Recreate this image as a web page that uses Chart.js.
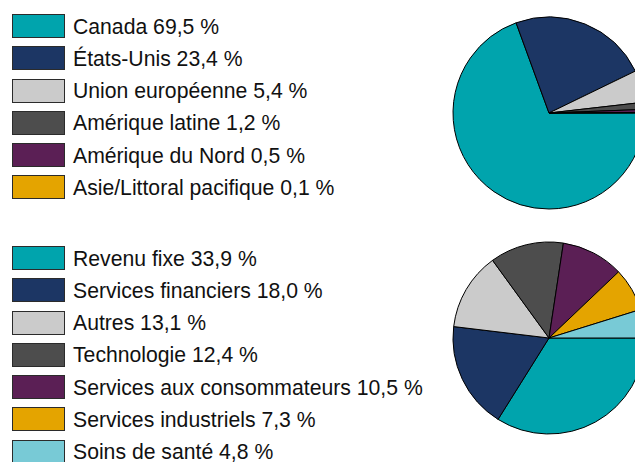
<!DOCTYPE html>
<html lang="fr">
<head>
<meta charset="utf-8">
<script src="https://cdn.jsdelivr.net/npm/chart.js@4/dist/chart.umd.min.js"></script>
<style>
  html, body { margin: 0; padding: 0; background: #fff; }
  body { position: relative; width: 635px; height: 462px; overflow: hidden; font-family: "Liberation Sans", Arial, sans-serif; }
  .legend { position: absolute; left: 12px; }
  .row { position: relative; height: 24px; margin-bottom: 8.25px; }
  .box { position: absolute; left: 0; top: 0; width: 51px; height: 22px; border: 1px solid #2b2b2b; }
  .txt { position: absolute; left: 61px; top: 0.5px; line-height: 24px; font-size: 21.2px; color: #111; white-space: nowrap; }
  .pie { position: absolute; width: 200px; height: 200px; }
</style>
</head>
<body>
<div class="legend" id="legendRegions" style="top:14px"></div>
<div class="pie" style="left:449px; top:13px"><canvas id="regionsChart" width="200" height="200"></canvas></div>

<div class="legend" id="legendSectors" style="top:246px"></div>
<div class="pie" style="left:449px; top:238px"><canvas id="sectorsChart" width="200" height="200"></canvas></div>

<script>
const regionLabels = ["Canada", "États-Unis", "Union européenne", "Amérique latine", "Amérique du Nord", "Asie/Littoral pacifique"]
const regionValues = [69.5, 23.4, 5.4, 1.2, 0.5, 0.1]
const regionColors = ["#00a4ad", "#1c3664", "#cbcbcb", "#4d4d4d", "#5b1f55", "#e4a400"]

const sectorLabels = ["Revenu fixe", "Services financiers", "Autres", "Technologie", "Services aux consommateurs", "Services industriels", "Soins de santé"]
const sectorValues = [33.9, 18.0, 13.1, 12.4, 10.5, 7.3, 4.8]
const sectorColors = ["#00a4ad", "#1c3664", "#cbcbcb", "#4d4d4d", "#5b1f55", "#e4a400", "#78cad6"]

function fmt(v) {
  return v.toFixed(1).replace(".", ",") + " %"
}

function buildLegend(id, labels, values, colors) {
  const el = document.getElementById(id)
  labels.forEach((label, i) => {
    const row = document.createElement("div")
    row.className = "row"
    const box = document.createElement("div")
    box.className = "box"
    box.style.background = colors[i]
    const txt = document.createElement("div")
    txt.className = "txt"
    txt.textContent = label + " " + fmt(values[i])
    row.appendChild(box)
    row.appendChild(txt)
    el.appendChild(row)
  })
}

function buildPie(id, labels, values, colors) {
  const ctx = document.getElementById(id).getContext("2d")
  new Chart(ctx, {
    type: "pie",
    data: {
      labels: labels,
      datasets: [
        {
          data: values,
          backgroundColor: colors,
          borderColor: "#000",
          borderWidth: 1,
          radius: 96,
        },
      ],
    },
    options: {
      responsive: false,
      animation: false,
      // slices start at 3 o'clock and run clockwise
      rotation: 90,
      layout: { padding: 0 },
      plugins: {
        legend: { display: false },
        tooltip: { enabled: false },
      },
    },
  })
}

buildLegend("legendRegions", regionLabels, regionValues, regionColors)
buildLegend("legendSectors", sectorLabels, sectorValues, sectorColors)
buildPie("regionsChart", regionLabels, regionValues, regionColors)
buildPie("sectorsChart", sectorLabels, sectorValues, sectorColors)
</script>
</body>
</html>
